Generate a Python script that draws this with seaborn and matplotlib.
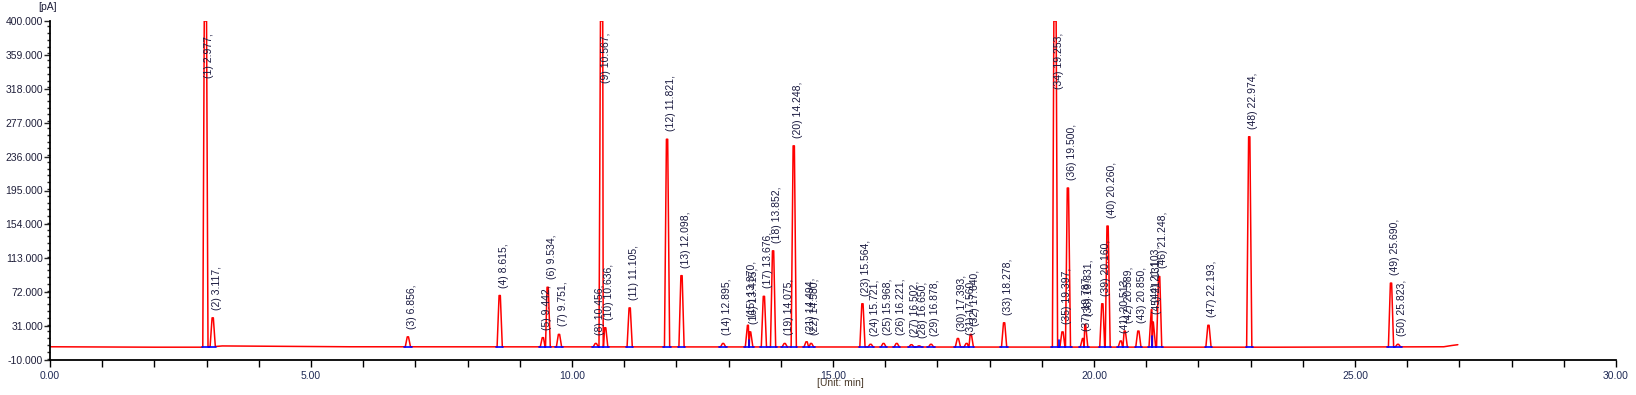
import matplotlib
matplotlib.use('Agg')
import matplotlib.pyplot as plt
import matplotlib.ticker as mticker
import numpy as np
import pandas as pd
import seaborn as sns

# Peak table (retention time in min, apex in pA)
peak_no = list(range(1, 51))
peak_rt = [2.977, 3.117, 6.856, 8.615, 9.442, 9.534, 9.751, 10.456, 10.567, 10.636,
           11.105, 11.821, 12.098, 12.895, 13.370, 13.415, 13.676, 13.852, 14.075, 14.248,
           14.494, 14.580, 15.564, 15.721, 15.968, 16.221, 16.502, 16.650, 16.878, 17.393,
           17.560, 17.640, 18.278, 19.253, 19.397, 19.500, 19.787, 19.831, 20.160, 20.260,
           20.513, 20.589, 20.850, 21.103, 21.131, 21.248, 22.193, 22.974, 25.690, 25.823]
peak_rt_label = ['2.977', '3.117', '6.856', '8.615', '9.442', '9.534', '9.751', '10.456', '10.567', '10.636',
                 '11.105', '11.821', '12.098', '12.895', '13.370', '13.415', '13.676', '13.852', '14.075', '14.248',
                 '14.494', '14.580', '15.564', '15.721', '15.968', '16.221', '16.502', '16.650', '16.878', '17.393',
                 '17.560', '17.640', '18.278', '19.253', '19.397', '19.500', '19.787', '19.831', '20.160', '20.260',
                 '20.513', '20.589', '20.850', '21.103', '21.131', '21.248', '22.193', '22.974', '25.690', '25.823']
peak_height = [400, 41, 18, 68, 17, 78, 21, 10, 400, 29,
               53, 257, 92, 10, 32, 24, 67, 122, 10, 249,
               12, 10, 58, 9, 10, 10, 8.5, 7, 9, 16,
               10, 21, 35, 400, 24, 198, 16, 33, 58, 152,
               13, 25, 25, 51, 36, 91, 32, 260, 83, 9]
clipped = [1, 9, 34]
drop_lines = [16, 35, 45]

# baseline knots of the trace
base_t = [0.0, 2.0, 2.9, 3.3, 5.75, 23.5, 26.7, 26.85, 26.97]
base_v = [6.0, 5.5, 5.5, 7.0, 6.0, 5.5, 6.0, 7.5, 8.5]

# build trace: baseline knots plus a narrow spike per peak
rt = np.array(peak_rt)
gaps = np.diff(rt)
left_gap = np.r_[1.0, gaps]
right_gap = np.r_[gaps, 1.0]
pts = [(t, v) for t, v in zip(base_t, base_v)]
for i, (t, h) in enumerate(zip(peak_rt, peak_height)):
    b = np.interp(t, base_t, base_v)
    hl = min(0.05, 0.45 * left_gap[i])
    hr = min(0.05, 0.45 * right_gap[i])
    tw = 0.022 if peak_no[i] in clipped else min(0.012, 0.2 * min(left_gap[i], right_gap[i]))
    pts += [(t - hl, b), (t - tw, h), (t + tw, h), (t + hr, b)]
trace = pd.DataFrame(pts, columns=['time', 'signal']).sort_values('time')

sns.set_style('white')
plt.rcParams['font.family'] = ['Liberation Sans', 'DejaVu Sans']

fig = plt.figure(figsize=(16.36, 3.95), dpi=100)
ax = fig.add_axes([50 / 1636, 35 / 395, 1566 / 1636, 339 / 395])

sns.lineplot(data=trace, x='time', y='signal', sort=False, estimator=None,
             color='red', linewidth=1.1, ax=ax)

# integration baselines (blue)
for i, t in enumerate(peak_rt):
    b = np.interp(t, base_t, base_v)
    hl = min(0.07, 0.5 * left_gap[i])
    hr = min(0.07, 0.5 * right_gap[i])
    ax.plot([t - hl, t + hr], [b, b], color='blue', linewidth=1.2)
    if peak_no[i] in drop_lines:
        ax.plot([t - 0.5 * left_gap[i], t - 0.5 * left_gap[i]],
                [b, b + 0.45 * (peak_height[i] - b)], color='blue', linewidth=1.2)

# peak labels
for n, t, lab, h in zip(peak_no, peak_rt, peak_rt_label, peak_height):
    txt = f'({n}) {lab},'
    if n in clipped:
        ax.annotate(txt, xy=(t, 400), xytext=(-1, -12), textcoords='offset pixels',
                    rotation=90, ha='left', va='top', fontsize=7.5, color='#1a1a40')
    else:
        ax.annotate(txt, xy=(t, h), xytext=(-1, 8), textcoords='offset pixels',
                    rotation=90, ha='left', va='bottom', fontsize=7.5, color='#1a1a40')

ax.set_xlim(0, 30)
ax.set_ylim(-10, 400)
ax.xaxis.set_major_locator(mticker.MultipleLocator(5))
ax.xaxis.set_minor_locator(mticker.MultipleLocator(1))
ax.xaxis.set_major_formatter(mticker.FormatStrFormatter('%.2f'))
ax.set_yticks(np.arange(-10, 401, 41))
ax.yaxis.set_minor_locator(mticker.MultipleLocator(8.2))
ax.yaxis.set_major_formatter(mticker.FormatStrFormatter('%.3f'))
ax.tick_params(axis='x', which='both', direction='out', length=5, width=1, colors='black',
               labelcolor='#1f2a55', labelsize=7.5, pad=3, bottom=True)
ax.tick_params(axis='y', which='major', direction='out', length=4, width=1,
               labelcolor='#1f1f3a', labelsize=7.5, pad=1, left=True)
ax.tick_params(axis='y', which='minor', direction='out', length=2, width=1, left=True)
ax.set_xlabel('')
ax.set_ylabel('')
for s in ['top', 'right']:
    ax.spines[s].set_visible(False)
for s in ['left', 'bottom']:
    ax.spines[s].set_color('black')
    ax.spines[s].set_linewidth(1.3)

fig.text(48 / 1636, 1 - 7 / 395, '[pA]', ha='center', va='center', fontsize=7.5, color='#1f1f3a')
fig.text(840 / 1636, 1 - 383 / 395, '[Unit: min]', ha='center', va='center', fontsize=7.5, color='#4a3a2a')

fig.savefig('out.png', dpi=100)
